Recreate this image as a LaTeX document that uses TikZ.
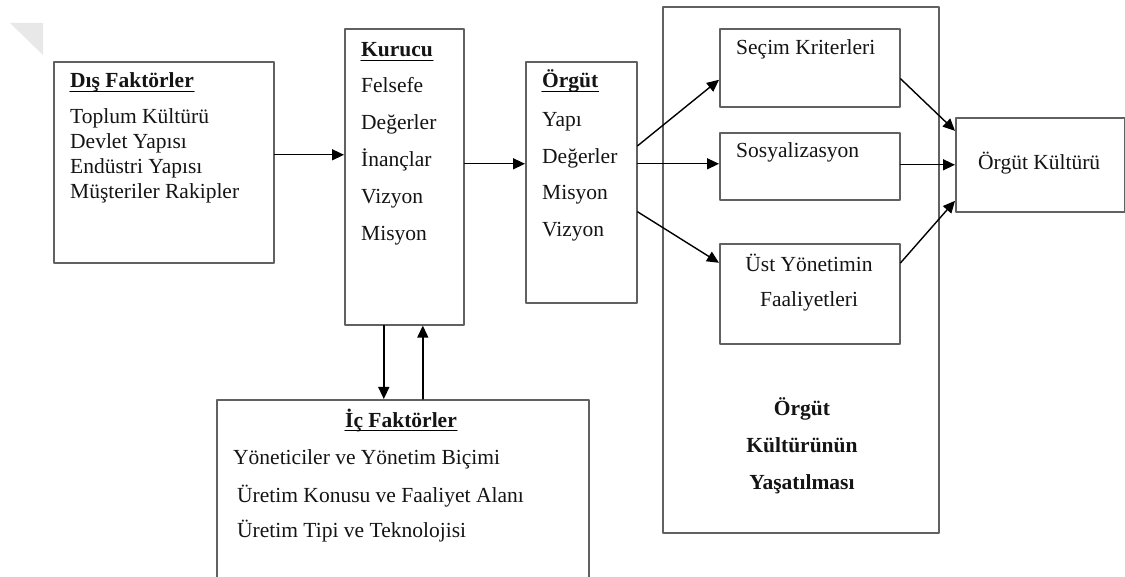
\documentclass[tikz,border=0pt]{standalone}
\usepackage{fontspec}
\setmainfont{Liberation Serif}
\usetikzlibrary{arrows.meta}

\begin{document}
\begin{tikzpicture}[x=1pt, y=-1pt, line cap=round, line join=round,
    box/.style={draw=black!62, line width=1.6pt, inner sep=0pt, anchor=north west},
    txt/.style={inner sep=0pt, anchor=base west, text=black!92, font=\fontsize{21.5}{24}\selectfont},
    ttl/.style={txt, font=\fontsize{21.5}{24}\selectfont\bfseries},
    arr/.style={-{Triangle[length=12pt, width=11pt]}, line width=1.4pt}]
        % page
        \clip (0,0) rectangle (1125,577);
        \fill[white] (0,0) rectangle (1125,577);
        \fill[black!9] (10,23) -- (43,23) -- (43,55) -- cycle;

        % boxes
        \node[box, minimum width=220pt, minimum height=201pt] (df) at (53,61) {};
        \node[box, minimum width=119pt, minimum height=296pt] (kur) at (344,28) {};
        \node[box, minimum width=111pt, minimum height=241pt] (org) at (525,61) {};
        \node[box, minimum width=276pt, minimum height=526pt] (yas) at (662,6) {};
        \node[box, minimum width=180pt, minimum height=78pt] (secim) at (719,28) {};
        \node[box, minimum width=180pt, minimum height=67pt] (sosyal) at (719,132) {};
        \node[box, minimum width=180pt, minimum height=100pt] (ust) at (719,243) {};
        \node[box, minimum width=169pt, minimum height=94pt] (kultur) at (955,117) {};
        \node[box, minimum width=372pt, minimum height=250pt] (ic) at (216,399) {};

        % dis faktorler
        \node[ttl] (df-t) at (70,88) {Dış Faktörler};
        \draw[line width=1.3pt] ([yshift=-3.5pt]df-t.base west) -- ([yshift=-3.5pt]df-t.base east);
        \foreach \t [count=\i] in {Toplum Kültürü, Devlet Yapısı, Endüstri Yapısı, Müşteriler Rakipler}
            \node[txt] (df-\i) at (70,99+25*\i) {\t};

        % kurucu
        \node[ttl] (kur-t) at (361,57) {Kurucu};
        \draw[line width=1.3pt] ([yshift=-3.5pt]kur-t.base west) -- ([yshift=-3.5pt]kur-t.base east);
        \foreach \t [count=\i] in {Felsefe, Değerler, İnançlar, Vizyon, Misyon}
            \node[txt] (kur-\i) at (361,56+37*\i) {\t};

        % orgut
        \node[ttl] (org-t) at (542,88) {Örgüt};
        \draw[line width=1.3pt] ([yshift=-3.5pt]org-t.base west) -- ([yshift=-3.5pt]org-t.base east);
        \foreach \t [count=\i] in {Yapı, Değerler, Misyon, Vizyon}
            \node[txt] (org-\i) at (542,90.5+36.5*\i) {\t};

        % ic faktorler
        \node[ttl, anchor=base] (ic-t) at (401,427) {İç Faktörler};
        \draw[line width=1.3pt] ([yshift=-3.5pt]ic-t.base west) -- ([yshift=-3.5pt]ic-t.base east);
        \node[txt] (ic-1) at (233,464) {Yöneticiler ve Yönetim Biçimi};
        \node[txt] (ic-2) at (237,502) {Üretim Konusu ve Faaliyet Alanı};
        \node[txt] (ic-3) at (237,537) {Üretim Tipi ve Teknolojisi};

        % yasatilmasi
        \node[txt] (secim-t) at (736,55) {Seçim Kriterleri};
        \node[txt] (sosyal-t) at (736,158) {Sosyalizasyon};
        \node[txt, anchor=base] (ust-1) at (809,272) {Üst Yönetimin};
        \node[txt, anchor=base] (ust-2) at (809,307) {Faaliyetleri};
        \node[txt] (kultur-t) at (978,170) {Örgüt Kültürü};
        \foreach \t [count=\i] in {Örgüt, Kültürünün, Yaşatılması}
            \node[ttl, anchor=base] (yas-\i) at (802,378+37*\i) {\t};

        % arrows
        \coordinate (a1) at ([yshift=7.5pt]df.east);
        \draw[arr] (a1) -- (a1 -| kur.west);
        \coordinate (a2) at ([yshift=13pt]kur.east);
        \draw[arr] (a2) -- (a2 -| org.west);
        \draw[arr] ([yshift=36.5pt]org.east) -- ([yshift=-12pt]secim.west);
        \coordinate (a3) at ([yshift=18.5pt]org.east);
        \draw[arr] (a3) -- (a3 -| sosyal.west);
        \draw[arr] ([yshift=-29.5pt]org.east) -- ([yshift=31pt]ust.west);
        \draw[arr] ([yshift=-11pt]secim.east) -- ([yshift=34pt]kultur.west);
        \draw[arr] (kultur.west -| sosyal.east) -- (kultur.west);
        \draw[arr] ([yshift=31pt]ust.east) -- ([yshift=-36pt]kultur.west);
        \draw[arr] ([xshift=-20.5pt]kur.south) -- ([xshift=-20.5pt]kur.south |- ic.north);
        \draw[arr] ([xshift=18.5pt]kur.south |- ic.north) -- ([xshift=18.5pt]kur.south);
    \end{tikzpicture}
\end{document}
